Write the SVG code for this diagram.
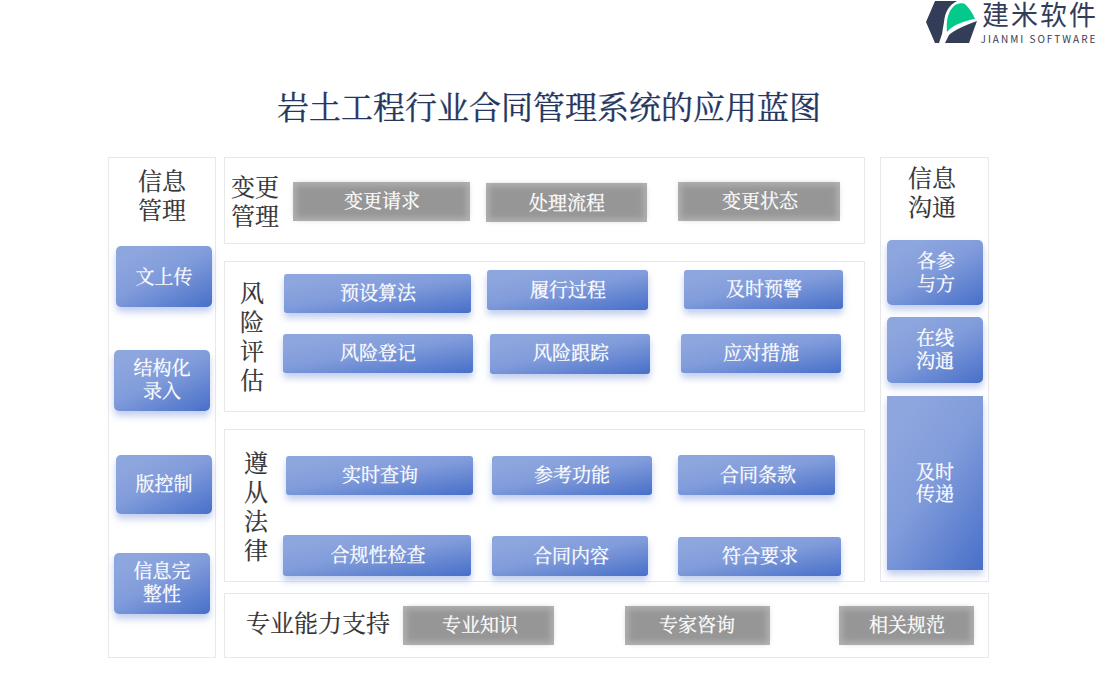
<svg xmlns="http://www.w3.org/2000/svg" width="1100" height="700" viewBox="0 0 1100 700">
<style>
.p{fill:#fff;stroke:#e8e8e8;stroke-width:1}
.b{fill:url(#bg);filter:url(#sh)}
.g{fill:#b2b2b2}
.gi{fill:#969696;filter:url(#bl)}
text{font-family:"Noto Serif CJK SC",serif;text-anchor:middle}
.t{font-size:19px;fill:#fff;stroke:#fff;stroke-width:0.25}
.h{font-size:24px;fill:#333;stroke:#333;stroke-width:0.2}
.title{font-size:32px;fill:#25375f;stroke:#25375f;stroke-width:0.3}
.lg{font-family:"Noto Sans CJK SC",sans-serif;fill:#343d58}
</style>
<defs>
<linearGradient id="bg" x1="0.15" y1="0" x2="0.95" y2="1"><stop offset="0.1" stop-color="#8ea6de"/><stop offset="0.45" stop-color="#819cdb"/><stop offset="1" stop-color="#4a71c9"/></linearGradient>
<filter id="sh" x="-20%" y="-20%" width="140%" height="150%"><feDropShadow dx="0" dy="5" stdDeviation="3.5" flood-color="#8ea6de" flood-opacity="0.55"/></filter>
<filter id="bl" x="-10%" y="-30%" width="120%" height="160%"><feGaussianBlur stdDeviation="3"/></filter>
</defs>
<g id="logo">
<path d="M926 22L935 1H957C949 5 945 12 944 22L942 34L939 43H935Z" fill="#343d58"/>
<path d="M947 32C946 20 948 11 955 5C959 3 963 3 965 4C970 9 973 14 975 19C963 21 953 25 947 32Z" fill="#03c98a"/>
<path d="M945 43L949 35C954 30 964 26 977 21L969 43Z" fill="#343d58"/>
<text class="lg" x="1040" y="25" font-size="27" letter-spacing="2">建米软件</text>
<text class="lg" x="1039" y="43" font-size="10" letter-spacing="2">JIANMI SOFTWARE</text>
</g>
<text class="title" x="549" y="119">岩土工程行业合同管理系统的应用蓝图</text>
<g id="panels">
<rect class="p" x="108.500" y="157.500" width="107" height="500"/>
<rect class="p" x="224.500" y="157.500" width="640" height="86"/>
<rect class="p" x="224.500" y="261.500" width="640" height="150"/>
<rect class="p" x="224.500" y="429.500" width="640" height="152"/>
<rect class="p" x="224.500" y="593.500" width="764" height="64"/>
<rect class="p" x="880.500" y="157.500" width="108" height="424"/>
</g>
<g id="info-mgmt">
<text class="h" x="162" y="190">信息</text><text class="h" x="162" y="219">管理</text>
<g id="n-l1"><rect class="b" x="116" y="246" width="96" height="61" rx="5"/><text class="t" x="164" y="284">文上传</text></g>
<g id="n-l2"><rect class="b" x="114" y="350" width="96" height="61" rx="5"/><text class="t" x="162" y="375">结构化</text><text class="t" x="162" y="398">录入</text></g>
<g id="n-l3"><rect class="b" x="116" y="455" width="96" height="59" rx="5"/><text class="t" x="164" y="491">版控制</text></g>
<g id="n-l4"><rect class="b" x="114" y="553" width="96" height="61" rx="5"/><text class="t" x="162" y="578">信息完</text><text class="t" x="162" y="601">整性</text></g>
</g>
<g id="change">
<text class="h" x="255" y="196">变更</text><text class="h" x="255" y="225">管理</text>
<g id="n-c1"><rect class="g" x="293" y="182" width="177" height="39"/><rect class="gi" x="296" y="185" width="171" height="33"/><text class="t" x="382" y="208">变更请求</text></g>
<g id="n-c2"><rect class="g" x="486" y="183" width="161" height="39"/><rect class="gi" x="489" y="186" width="155" height="33"/><text class="t" x="567" y="210">处理流程</text></g>
<g id="n-c3"><rect class="g" x="678" y="182" width="162" height="39"/><rect class="gi" x="681" y="185" width="156" height="33"/><text class="t" x="760" y="208">变更状态</text></g>
</g>
<g id="risk">
<text class="h" x="252" y="302">风</text><text class="h" x="252" y="331">险</text><text class="h" x="252" y="360">评</text><text class="h" x="252" y="389">估</text>
<g id="n-r1"><rect class="b" x="284" y="274" width="187" height="39" rx="3"/><text class="t" x="378" y="300">预设算法</text></g>
<g id="n-r2"><rect class="b" x="487" y="270" width="161" height="40" rx="3"/><text class="t" x="568" y="297">履行过程</text></g>
<g id="n-r3"><rect class="b" x="684" y="270" width="159" height="39" rx="3"/><text class="t" x="764" y="296">及时预警</text></g>
<g id="n-r4"><rect class="b" x="283" y="334" width="190" height="39" rx="3"/><text class="t" x="378" y="360">风险登记</text></g>
<g id="n-r5"><rect class="b" x="490" y="334" width="160" height="40" rx="3"/><text class="t" x="571" y="360">风险跟踪</text></g>
<g id="n-r6"><rect class="b" x="681" y="334" width="160" height="39" rx="3"/><text class="t" x="761" y="360">应对措施</text></g>
</g>
<g id="law">
<text class="h" x="256" y="472">遵</text><text class="h" x="256" y="501">从</text><text class="h" x="256" y="530">法</text><text class="h" x="256" y="559">律</text>
<g id="n-a1"><rect class="b" x="286" y="456" width="187" height="39" rx="3"/><text class="t" x="380" y="482">实时查询</text></g>
<g id="n-a2"><rect class="b" x="492" y="456" width="160" height="39" rx="3"/><text class="t" x="572" y="482">参考功能</text></g>
<g id="n-a3"><rect class="b" x="678" y="455" width="157" height="40" rx="3"/><text class="t" x="758" y="482">合同条款</text></g>
<g id="n-a4"><rect class="b" x="283" y="535" width="188" height="41" rx="3"/><text class="t" x="378" y="562">合规性检查</text></g>
<g id="n-a5"><rect class="b" x="492" y="536" width="156" height="40" rx="3"/><text class="t" x="571" y="563">合同内容</text></g>
<g id="n-a6"><rect class="b" x="678" y="537" width="163" height="39" rx="3"/><text class="t" x="760" y="563">符合要求</text></g>
</g>
<g id="pro">
<text class="h" x="318" y="632">专业能力支持</text>
<g id="n-p1"><rect class="g" x="403" y="606" width="151" height="39"/><rect class="gi" x="406" y="609" width="145" height="33"/><text class="t" x="480" y="632">专业知识</text></g>
<g id="n-p2"><rect class="g" x="625" y="606" width="145" height="39"/><rect class="gi" x="628" y="609" width="139" height="33"/><text class="t" x="697" y="632">专家咨询</text></g>
<g id="n-p3"><rect class="g" x="839" y="606" width="135" height="39"/><rect class="gi" x="842" y="609" width="129" height="33"/><text class="t" x="907" y="632">相关规范</text></g>
</g>
<g id="comm">
<text class="h" x="932" y="187">信息</text><text class="h" x="932" y="216">沟通</text>
<g id="n-m1"><rect class="b" x="887" y="240" width="96" height="65" rx="5"/><text class="t" x="936" y="268">各参</text><text class="t" x="936" y="291">与方</text></g>
<g id="n-m2"><rect class="b" x="887" y="317" width="96" height="66" rx="5"/><text class="t" x="935" y="345">在线</text><text class="t" x="935" y="368">沟通</text></g>
<g id="n-m3"><rect class="b" x="887" y="396" width="96" height="174"/><text class="t" x="935" y="479">及时</text><text class="t" x="935" y="501">传递</text></g>
</g>
</svg>
